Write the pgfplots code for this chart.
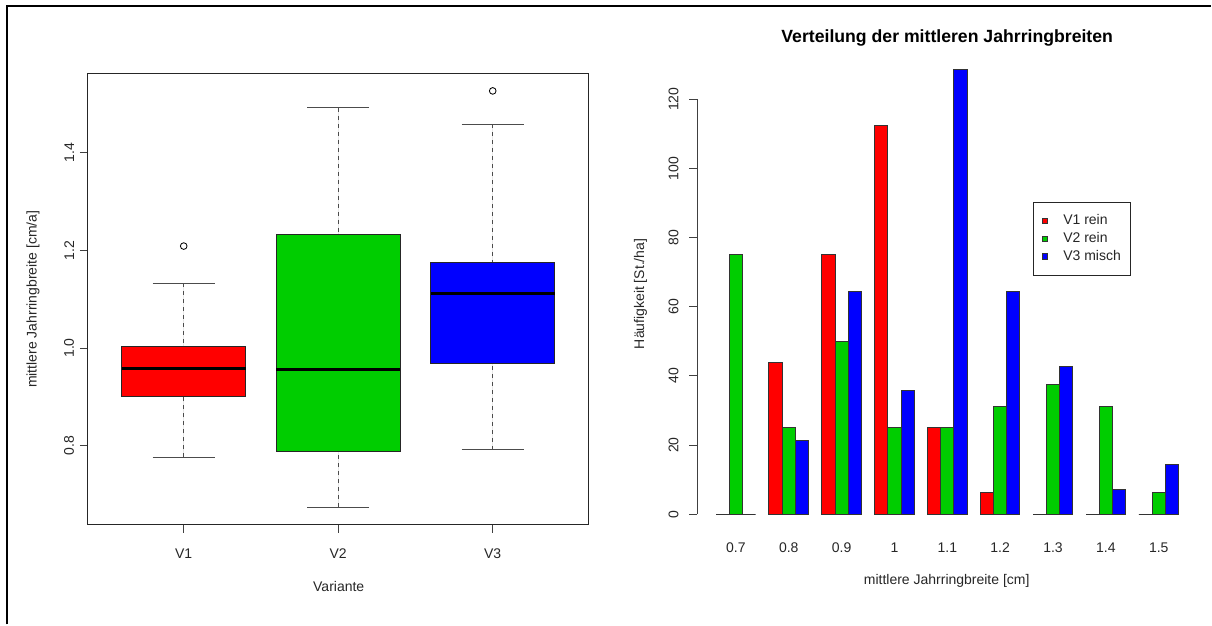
\documentclass[border=0pt]{standalone}
\usepackage{pgfplots}
\pgfplotsset{compat=1.18}
\usepgfplotslibrary{statistics}
\usepackage{fontspec}
\setmainfont{Liberation Sans}
\definecolor{rred}{HTML}{FF0000}
\definecolor{rgreen}{HTML}{00CD00}
\definecolor{rblue}{HTML}{0000FF}
\newcommand{\rfont}{\fontsize{8.4}{10}\selectfont}
\tikzset{rwhisk/.style={black!70, line width=0.6pt}}
\pgfplotsset{
  rstyle/.style={
    scale only axis,
    tick align=outside,
    major tick length=4.8pt,
    every tick/.style={black!75, line width=0.6pt},
    every tick label/.append style={font=\rfont, text=black!85},
    label style={font=\rfont, text=black!85},
    /pgf/number format/assume math mode=true,
  },
  boxplot/draw/lower whisker/.code={%
    \draw[rwhisk, dash pattern=on 2.4pt off 2.4pt]
      (boxplot cs:\pgfplotsboxplotvalue{lower whisker}) --
      (boxplot cs:\pgfplotsboxplotvalue{lower quartile});
    \draw[rwhisk]
      (boxplot whisker cs:\pgfplotsboxplotvalue{lower whisker},0) --
      (boxplot whisker cs:\pgfplotsboxplotvalue{lower whisker},1);
  },
  boxplot/draw/upper whisker/.code={%
    \draw[rwhisk, dash pattern=on 2.4pt off 2.4pt]
      (boxplot cs:\pgfplotsboxplotvalue{upper whisker}) --
      (boxplot cs:\pgfplotsboxplotvalue{upper quartile});
    \draw[rwhisk]
      (boxplot whisker cs:\pgfplotsboxplotvalue{upper whisker},0) --
      (boxplot whisker cs:\pgfplotsboxplotvalue{upper whisker},1);
  },
  boxplot/every median/.style={black, line width=1.8pt},
  rbox/.style={draw=black!85, line width=0.6pt, fill=#1, mark=o,
    mark size=2pt, mark options={draw=black, fill=none, line width=0.5pt, solid}},
  rbar/.style={fill=#1, draw=black!80, line width=0.6pt,
    legend image code/.code={\path[fill=#1] (0pt,-1.65pt) rectangle (3.3pt,1.65pt);}},
}
\begin{document}
\begin{tikzpicture}[x=0.6pt,y=0.6pt]
\path (0,0) rectangle (1212,625);
\draw[line width=1.2pt] (7,0) -- (7,619) -- (1212,619);

% ---------- left: boxplot ----------
\begin{axis}[
  rstyle,
  at={(52.8pt,60pt)}, anchor=south west,
  width=300.6pt, height=270.6pt,
  axis line style={black!85, line width=0.6pt},
  xmin=0.38, xmax=3.62, ymin=0.6382, ymax=1.5618,
  xtick={1,2,3}, xticklabels={V1,V2,V3},
  ytick={0.8,1.0,1.2,1.4}, yticklabels={0.8,1.0,1.2,1.4},
  xtick pos=bottom, ytick pos=left,
  xticklabel style={yshift=-6pt},
  yticklabel style={rotate=90, anchor=south},
  xlabel={Variante},
  ylabel={mittlere Jahrringbreite [cm/a]},
  xlabel style={at={(axis description cs:0.501,-0.1375)}, anchor=center},
  ylabel style={at={(axis description cs:-0.1098,0.5)}, anchor=center, rotate=0},
]
\addplot[rbox=rred, boxplot prepared={draw direction=y, draw position=1,
  box extend=0.8, whisker extend=0.4,
  lower whisker=0.776, lower quartile=0.900, median=0.959,
  upper quartile=1.004, upper whisker=1.133}]
  coordinates {(0,1.209)};
\addplot[rbox=rgreen, boxplot prepared={draw direction=y, draw position=2,
  box extend=0.8, whisker extend=0.4,
  lower whisker=0.674, lower quartile=0.787, median=0.956,
  upper quartile=1.2335, upper whisker=1.492}]
  coordinates {};
\addplot[rbox=rblue, boxplot prepared={draw direction=y, draw position=3,
  box extend=0.8, whisker extend=0.4,
  lower whisker=0.792, lower quartile=0.969, median=1.111,
  upper quartile=1.176, upper whisker=1.459}]
  coordinates {(0,1.527)};
\end{axis}

% ---------- right: bar chart ----------
\begin{axis}[
  rstyle,
  at={(418.8pt,66.18pt)}, anchor=south west,
  width=301.2pt, height=249.24pt,
  clip=false,
  axis lines*=left,
  x axis line style={draw=none},
  y axis line style={black!75, line width=0.6pt},
  xmin=-0.728, xmax=8.762, ymin=0, ymax=120,
  xtick={0,...,8},
  xticklabels={0.7,0.8,0.9,1,1.1,1.2,1.3,1.4,1.5},
  xtick style={draw=none},
  xticklabel style={yshift=-9pt},
  ytick={0,20,...,120},
  yticklabel style={rotate=90, anchor=south, yshift=3pt},
  ybar=0pt, bar width=0.25,
  title={Verteilung der mittleren Jahrringbreiten},
  title style={at={(axis description cs:0.498,1.124)}, anchor=center,
    font=\fontsize{10.6}{12}\selectfont\bfseries, text=black},
  xlabel={mittlere Jahrringbreite [cm]},
  ylabel={Häufigkeit [St./ha]},
  xlabel style={at={(axis description cs:0.497,-0.1613)}, anchor=center},
  ylabel style={at={(axis description cs:-0.1135,0.531)}, anchor=center, rotate=0},
  legend style={at={(axis description cs:0.669,0.753)}, anchor=north west,
    draw=black!85, line width=0.6pt, font=\rfont, text=black!85,
    inner xsep=5pt, inner ysep=6.5pt, row sep=1.2pt,
    nodes={inner sep=1pt, text height=6pt, text depth=1.5pt},
    /tikz/every odd column/.append style={column sep=8pt}},
  legend cell align=left,
]
\addplot[rbar=rred] coordinates {(0,0) (1,43.75) (2,75) (3,112.5) (4,25) (5,6.25) (6,0) (7,0) (8,0)};
\addplot[rbar=rgreen] coordinates {(0,75) (1,25) (2,50) (3,25) (4,25) (5,31.25) (6,37.5) (7,31.25) (8,6.25)};
\addplot[rbar=rblue] coordinates {(0,0) (1,21.43) (2,64.29) (3,35.71) (4,128.57) (5,64.29) (6,42.86) (7,7.14) (8,14.29)};
\legend{V1 rein, V2 rein, V3 misch}
\end{axis}
\end{tikzpicture}
\end{document}
